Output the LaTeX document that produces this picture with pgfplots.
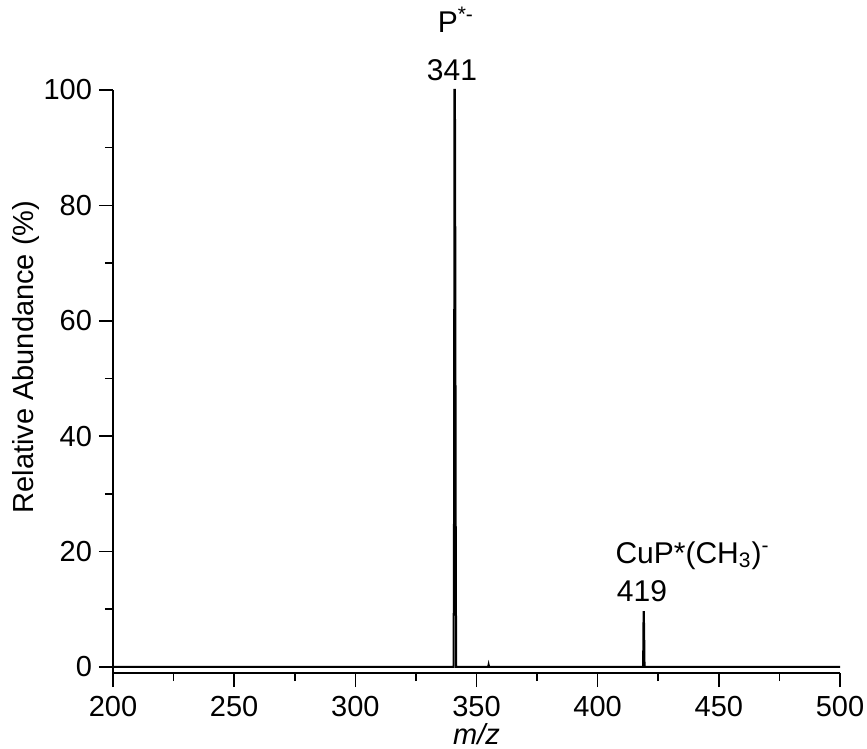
\documentclass[border=0pt]{standalone}
\usepackage{fontspec}
\setmainfont{Liberation Sans}
\usepackage{pgfplots}
\pgfplotsset{compat=1.18}
\begin{document}
\begin{tikzpicture}
\begin{axis}[
  name=ax,
  scale only axis,
  width=363.5pt, height=291.5pt,
  xmin=200, xmax=500, ymin=-1.04, ymax=100,
  axis x line=bottom, axis y line=left,
  axis line style={-, line width=1pt},
  xtick={200,250,...,500}, ytick={0,20,...,100},
  minor x tick num=1, minor y tick num=1,
  tick align=outside,
  major tick length=7pt, minor tick length=4pt,
  tick style={line width=0.8pt, black},
  /pgf/number format/assume math mode=true,
  /pgf/number format/1000 sep={},
  ticklabel style={font=\fontsize{14.5}{16}\selectfont},
  xticklabel style={yshift=-1pt},
  xlabel={\textit{m/z}},
  ylabel={Relative Abundance (\%)},
  label style={font=\fontsize{14.5}{16}\selectfont},
  xlabel style={at={(axis description cs:0.5,-0.122)}, anchor=base},
  ylabel style={at={(axis description cs:-0.1087,0.542)}, anchor=base},
  clip=false,
]
\addplot[black, line width=1pt] coordinates {
 (200,0) (340.55,0) (340.75,30) (340.9,100) (341.1,100) (341.25,73) (341.4,30) (341.6,0)
 (354.8,0) (355,0.4) (355.2,0)
 (418.75,0) (418.95,9.5) (419.05,9.5) (419.2,5.5) (419.35,0) (500,0)
};
\node[anchor=base, font=\fontsize{15}{17}\selectfont] at (axis cs:341.5,110.0) {P\textsuperscript{*-}};
\node[anchor=base, font=\fontsize{15}{17}\selectfont] at (axis cs:339.9,101.6) {341};
\node[anchor=base west, inner sep=0pt, font=\fontsize{15}{17}\selectfont] at (axis cs:407.2,18.0) {CuP*(CH\textsubscript{3})\textsuperscript{-}};
\node[anchor=base, font=\fontsize{15}{17}\selectfont] at (axis cs:418.3,11.3) {419};
\end{axis}
\pgfresetboundingbox
\path ([shift={(-56.5pt,-38pt)}]ax.south west) rectangle ([shift={(377pt,336.5pt)}]ax.south west);
\end{tikzpicture}
\end{document}
